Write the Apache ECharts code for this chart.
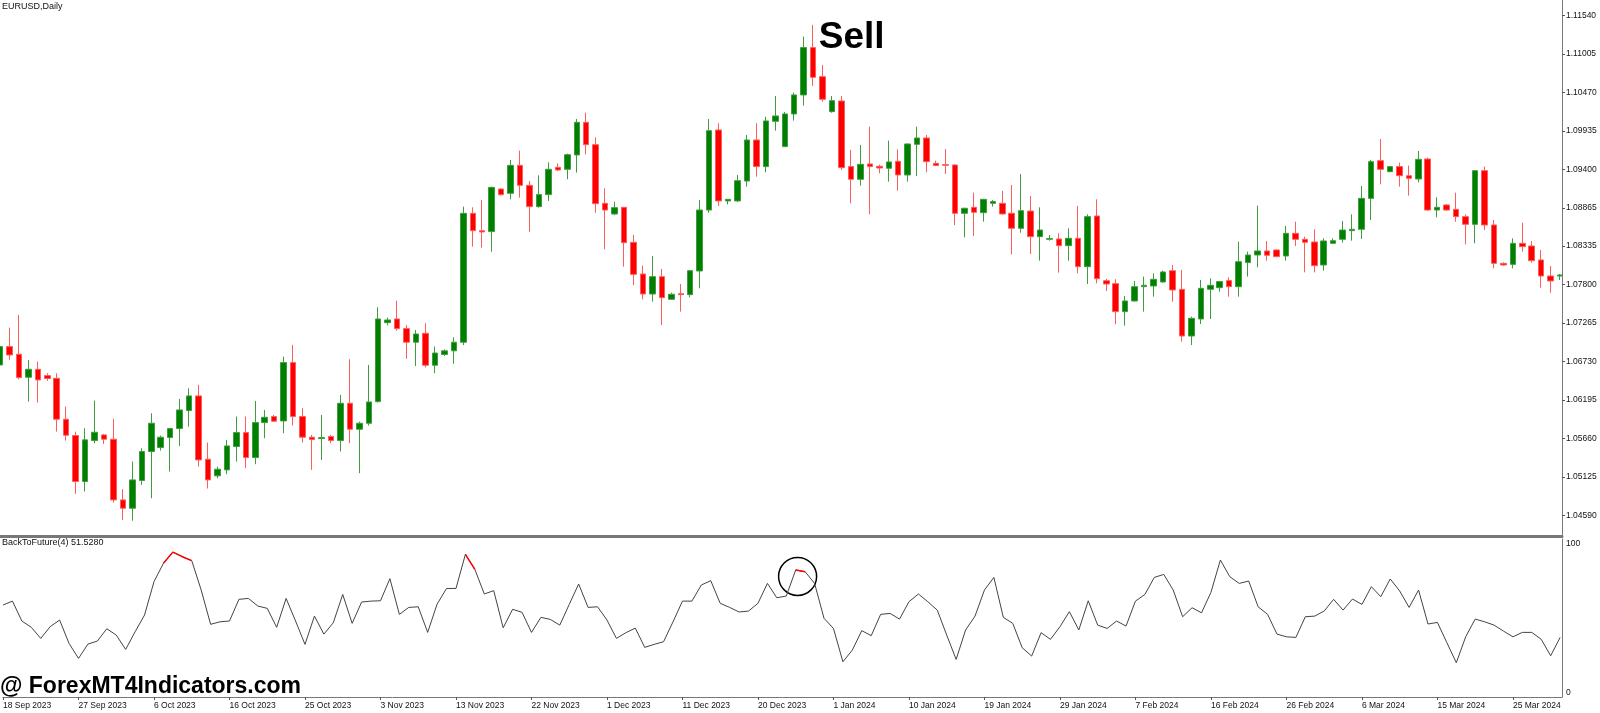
<!DOCTYPE html>
<html><head><meta charset="utf-8">
<script src="https://cdn.jsdelivr.net/npm/echarts@6/dist/echarts.min.js"></script>
<style>html,body{margin:0;padding:0;background:#fff;overflow:hidden}#c{width:1600px;height:713px}</style>
</head><body><div id="c"></div>
<script>
// ---- tick labels ----
const dateLabels = ['18 Sep 2023','27 Sep 2023','6 Oct 2023','16 Oct 2023','25 Oct 2023','3 Nov 2023','13 Nov 2023','22 Nov 2023','1 Dec 2023','11 Dec 2023','20 Dec 2023','1 Jan 2024','10 Jan 2024','19 Jan 2024','29 Jan 2024','7 Feb 2024','16 Feb 2024','26 Feb 2024','6 Mar 2024','15 Mar 2024','25 Mar 2024'];
const dateTickIdx = [0,8,16,24,32,40,48,56,64,72,80,88,96,104,112,120,128,136,144,152,160];
const priceTicks = [1.11540,1.11005,1.10470,1.09935,1.09400,1.08865,1.08335,1.07800,1.07265,1.06730,1.06195,1.05660,1.05125,1.04590];
const indTicks = [0,100];

// ---- EURUSD daily OHLC (bar index 0..165) ----
const opens = [1.06684,1.06939,1.06833,1.06513,1.06624,1.06536,1.06499,1.05930,1.05703,1.05064,
1.05633,1.05712,1.05652,1.04809,1.04693,1.05078,1.05481,1.05536,1.05675,1.05800,
1.06050,1.06254,1.05374,1.05143,1.05226,1.05550,1.05744,1.05397,1.05883,1.05967,
1.05906,1.06717,1.05967,1.05680,1.05661,1.05689,1.05633,1.06152,1.05791,1.05874,
1.06175,1.07272,1.07323,1.07189,1.07000,1.07124,1.06680,1.06830,1.06880,1.07000,
1.08791,1.08550,1.08537,1.09129,1.09069,1.09458,1.09180,1.08884,1.09051,1.09430,
1.09403,1.09602,1.10056,1.09745,1.08930,1.08782,1.08875,1.08388,1.07948,1.07670,
1.07911,1.07596,1.07675,1.07661,1.07990,1.08837,1.09949,1.08963,1.08963,1.09240,
1.09810,1.09440,1.10070,1.09718,1.10172,1.10436,1.11094,1.10690,1.10204,1.10352,
1.09440,1.09264,1.09477,1.09445,1.09417,1.09514,1.09324,1.09750,1.09838,1.09486,
1.09468,1.09463,1.08791,1.08875,1.08800,1.08930,1.08930,1.08792,1.08583,1.08823,
1.08467,1.08430,1.08435,1.08342,1.08444,1.08050,1.08754,1.07855,1.07814,1.07425,
1.07573,1.07772,1.07781,1.07837,1.07994,1.07735,1.07086,1.07323,1.07735,1.07758,
1.07856,1.07772,1.08106,1.08212,1.08268,1.08282,1.08198,1.08513,1.08430,1.08393,
1.08073,1.08374,1.08430,1.08550,1.08569,1.08999,1.09523,1.09370,1.09440,1.09314,
1.09268,1.09546,1.08837,1.08907,1.08847,1.08745,1.08638,1.09384,1.08629,1.08096,
1.08082,1.08374,1.08337,1.08143,1.07920,1.07920];
const closes = [1.06939,1.06823,1.06508,1.06624,1.06476,1.06495,1.05930,1.05707,1.05064,1.05643,
1.05749,1.05652,1.04809,1.04693,1.05087,1.05481,1.05874,1.05680,1.05800,1.06059,
1.06254,1.05365,1.05087,1.05235,1.05559,1.05744,1.05397,1.05883,1.05957,1.05902,
1.06717,1.05967,1.05680,1.05647,1.05675,1.05633,1.06152,1.05791,1.05874,1.06170,
1.07323,1.07309,1.07189,1.07000,1.07114,1.06680,1.06850,1.06880,1.07000,1.08791,
1.08550,1.08532,1.09152,1.09050,1.09458,1.09180,1.08884,1.09051,1.09403,1.09393,
1.09606,1.10056,1.09745,1.08925,1.08837,1.08870,1.08383,1.07943,1.07670,1.07911,
1.07619,1.07666,1.07661,1.07994,1.08837,1.09940,1.08963,1.08986,1.09245,1.09810,
1.09440,1.10075,1.10144,1.10172,1.10436,1.11094,1.10681,1.10376,1.10357,1.09426,
1.09264,1.09472,1.09440,1.09421,1.09505,1.09324,1.09755,1.09838,1.09509,1.09454,
1.09458,1.08791,1.08861,1.08805,1.08986,1.08954,1.08782,1.08583,1.08828,1.08467,
1.08559,1.08440,1.08342,1.08444,1.08050,1.08745,1.07883,1.07809,1.07425,1.07573,
1.07772,1.07791,1.07874,1.07976,1.07726,1.07086,1.07332,1.07749,1.07791,1.07842,
1.07772,1.08119,1.08212,1.08268,1.08208,1.08189,1.08513,1.08430,1.08388,1.08064,
1.08407,1.08411,1.08559,1.08569,1.08999,1.09509,1.09402,1.09440,1.09314,1.09277,
1.09541,1.08837,1.08874,1.08837,1.08745,1.08638,1.09384,1.08629,1.08096,1.08073,
1.08374,1.08328,1.08133,1.07920,1.07851,1.07934];
const lows = [1.06640,1.06754,1.06485,1.06175,1.06161,1.06462,1.05758,1.05633,1.04893,1.04925,
1.05596,1.05587,1.04772,1.04530,1.04520,1.05018,1.04832,1.05494,1.05203,1.05559,
1.05828,1.05272,1.04967,1.05110,1.05166,1.05342,1.05249,1.05305,1.05666,1.05893,
1.05735,1.05842,1.05606,1.05226,1.05365,1.05596,1.05481,1.05596,1.05180,1.05842,
1.06161,1.07235,1.07161,1.06770,1.06670,1.06650,1.06570,1.06810,1.06700,1.06960,
1.08328,1.08314,1.08258,1.09040,1.08986,1.09009,1.08536,1.08870,1.08963,1.09379,
1.09264,1.09356,1.09611,1.08800,1.08291,1.08768,1.08050,1.07795,1.07596,1.07564,
1.07239,1.07587,1.07425,1.07624,1.07749,1.08800,1.08893,1.08916,1.08950,1.09162,
1.09301,1.09361,1.09940,1.09718,1.10079,1.10288,1.10561,1.10343,1.10190,1.09394,
1.08930,1.09176,1.08778,1.09347,1.09231,1.09106,1.09231,1.09310,1.09361,1.09449,
1.09338,1.08629,1.08458,1.08477,1.08676,1.08884,1.08775,1.08221,1.08522,1.08226,
1.08133,1.08411,1.07967,1.08133,1.07957,1.07809,1.07818,1.07712,1.07249,1.07230,
1.07564,1.07425,1.07633,1.07828,1.07564,1.07008,1.06961,1.07253,1.07323,1.07703,
1.07633,1.07633,1.07911,1.08041,1.08133,1.08180,1.08133,1.08337,1.07971,1.07971,
1.07994,1.08365,1.08383,1.08411,1.08434,1.08698,1.09194,1.09361,1.09162,1.09037,
1.09222,1.08823,1.08735,1.08828,1.08675,1.08360,1.08374,1.08559,1.08027,1.08064,
1.08027,1.08258,1.08106,1.07758,1.07689,1.07865];
const highs = [1.06990,1.07203,1.07379,1.06754,1.06731,1.06569,1.06569,1.06106,1.05758,1.05805,
1.06189,1.05726,1.05934,1.04957,1.05342,1.05527,1.06013,1.05703,1.05809,1.06212,
1.06360,1.06407,1.05606,1.05272,1.05643,1.05967,1.05967,1.06184,1.06059,1.05990,
1.06800,1.06962,1.06082,1.05712,1.05990,1.05712,1.06268,1.06763,1.05897,1.06684,
1.07485,1.07342,1.07578,1.07240,1.07170,1.07263,1.06940,1.06900,1.07068,1.08884,
1.08875,1.08976,1.09160,1.09140,1.09532,1.09662,1.09240,1.09319,1.09500,1.09486,
1.09620,1.10102,1.10190,1.09847,1.09139,1.08953,1.08880,1.08490,1.08064,1.08198,
1.08018,1.07689,1.07809,1.08000,1.08976,1.10102,1.10042,1.08990,1.09324,1.09880,
1.10042,1.10135,1.10422,1.10200,1.10468,1.11246,1.11409,1.10853,1.10422,1.10422,
1.09672,1.09741,1.09996,1.09468,1.09801,1.09681,1.09760,1.09996,1.09880,1.09523,
1.09685,1.09472,1.08870,1.09079,1.08990,1.08977,1.09102,1.09185,1.09338,1.09032,
1.08874,1.08490,1.08513,1.08583,1.08893,1.08777,1.08986,1.07879,1.07874,1.07643,
1.07851,1.07911,1.07957,1.07995,1.08073,1.08004,1.07355,1.07865,1.07888,1.07850,
1.07902,1.08397,1.08258,1.08898,1.08407,1.08290,1.08615,1.08675,1.08467,1.08569,
1.08444,1.08444,1.08685,1.08777,1.09171,1.09532,1.09824,1.09449,1.09495,1.09454,
1.09657,1.09565,1.09013,1.08921,1.09078,1.08777,1.09390,1.09440,1.08698,1.08110,
1.08444,1.08661,1.08407,1.08281,1.08059,1.07948];

// ---- BackToFuture(4) indicator values ----
const indicator = [58.2,60.7,48.1,44.1,37.1,44.5,48.7,33.9,24.4,33.5,
35.4,43.2,39.2,30.1,41.3,51.9,73.0,84.6,91.7,88.8,
86.3,67.7,46.0,47.6,48.1,61.8,62.4,57.6,56.1,44.1,
62.4,48.1,33.3,51.2,39.8,47.0,64.9,46.6,60.1,60.7,
60.9,74.9,52.3,56.7,57.1,40.9,58.8,68.7,68.7,90.3,
80.8,65.2,67.3,43.8,55.5,53.6,40.9,50.4,49.1,45.5,
58.6,71.5,56.7,57.1,48.7,37.1,40.7,43.6,31.4,33.3,
35.0,47.6,60.7,60.7,70.9,73.6,59.3,56.7,53.8,54.4,
59.3,71.9,62.8,63.9,80.4,79.3,71.9,49.8,43.4,22.3,
29.7,42.0,38.8,52.3,52.9,49.3,60.3,65.2,60.3,55.0,
39.2,23.8,42.4,51.2,67.7,75.7,50.4,46.6,31.2,25.9,
40.7,36.5,44.5,54.0,42.4,60.9,45.5,43.4,48.1,44.9,
60.7,64.9,75.7,77.6,67.7,50.8,56.5,53.3,66.2,86.7,
76.1,71.9,73.4,57.1,52.3,39.8,38.1,37.7,50.8,51.2,
54.4,61.8,55.0,62.0,58.6,69.8,63.5,74.7,67.1,56.7,
67.7,46.2,47.2,34.4,21.7,38.2,49.3,47.6,45.5,41.7,
38.1,40.9,40.9,36.5,26.1,37.7];
const signalIdx = [17,18,19,20,49,50,84,85];
const sellMark = [86.6, 1.11227];
const circleMark = [84.2, 76.3];

// ---- build ----
const FONT = '"Liberation Sans", Arial, sans-serif';
const candleData = opens.map((o, i) => [i, o, closes[i], lows[i], highs[i]]);
const lineData = indicator.map((v, i) => [i, v]);
const redData = indicator.map((v, i) => signalIdx.includes(i) ? [i, v] : [i, '-']);
const X_MIN = 0, X_MAX = 165.2;
const P_MAX = 1.117554, P_MIN = 1.043072;

const chart = echarts.init(document.getElementById('c'), null, {renderer: 'canvas'});
chart.setOption({
  animation: false,
  backgroundColor: '#ffffff',
  grid: [
    {left: 0, right: 38, top: 0, height: 536},
    {left: 0, right: 38, top: 539, height: 158}
  ],
  xAxis: [
    {type: 'value', gridIndex: 0, min: X_MIN, max: X_MAX,
     axisLine: {show: true, onZero: false, lineStyle: {color: '#787878', width: 3}},
     axisTick: {show: false}, axisLabel: {show: false}, splitLine: {show: false}},
    {type: 'value', gridIndex: 1, min: X_MIN, max: X_MAX,
     axisLine: {show: true, onZero: false, lineStyle: {color: '#787878', width: 1}},
     axisTick: {show: true, customValues: dateTickIdx, length: 3, lineStyle: {color: '#555'}},
     axisLabel: {customValues: dateTickIdx, formatter: v => dateLabels[dateTickIdx.indexOf(v)],
       align: 'left', margin: 4, fontSize: 8.5, color: '#111', fontFamily: FONT},
     splitLine: {show: false}}
  ],
  yAxis: [
    {type: 'value', gridIndex: 0, position: 'right', min: P_MIN, max: P_MAX,
     axisLine: {show: true, onZero: false, lineStyle: {color: '#787878', width: 1}},
     axisTick: {show: true, customValues: priceTicks, length: 3, lineStyle: {color: '#555'}},
     axisLabel: {customValues: priceTicks, formatter: v => v.toFixed(5), margin: 4,
       fontSize: 8.5, color: '#111', fontFamily: FONT},
     splitLine: {show: false}},
    {type: 'value', gridIndex: 1, position: 'right', min: 0, max: 100,
     axisLine: {show: true, onZero: false, lineStyle: {color: '#787878', width: 1}},
     axisTick: {show: false},
     axisLabel: {customValues: indTicks, margin: 4, fontSize: 8.5, color: '#111', fontFamily: FONT,
       verticalAlignMinLabel: 'bottom', verticalAlignMaxLabel: 'top'},
     splitLine: {show: false}}
  ],
  series: [
    {type: 'candlestick', xAxisIndex: 0, yAxisIndex: 0, data: candleData, barWidth: 6,
     itemStyle: {color: '#008000', color0: '#ff0000', borderColor: '#3f9c3f', borderColor0: '#ff5c5c', borderWidth: 1}},
    {type: 'scatter', xAxisIndex: 0, yAxisIndex: 0, data: [sellMark], symbolSize: 0, silent: true,
     itemStyle: {opacity: 1},
     label: {show: true, formatter: 'Sell', position: 'right', distance: 0, opacity: 1,
       fontSize: 37, fontWeight: 'bold', color: '#000', textBorderWidth: 0, fontFamily: FONT}},
    {type: 'line', xAxisIndex: 1, yAxisIndex: 1, data: lineData, symbol: 'none',
     lineStyle: {color: '#444444', width: 1}},
    {type: 'line', xAxisIndex: 1, yAxisIndex: 1, data: redData, symbol: 'none', connectNulls: false,
     lineStyle: {color: '#ff0000', width: 1.5}},
    {type: 'scatter', xAxisIndex: 1, yAxisIndex: 1, data: [circleMark], symbol: 'circle', symbolSize: 38,
     itemStyle: {color: 'rgba(0,0,0,0)', borderColor: '#000', borderWidth: 1.5, opacity: 1}, silent: true}
  ],
  graphic: [
    {type: 'text', left: 2, top: 2, style: {text: 'EURUSD,Daily', font: '9px ' + FONT, fill: '#111'}},
    {type: 'text', left: 2, top: 538, style: {text: 'BackToFuture(4) 51.5280', font: '9px ' + FONT, fill: '#111'}},
    {type: 'text', left: 0, top: 675, style: {text: '@ ForexMT4Indicators.com', font: 'bold 23px ' + FONT, fill: '#000'}}
  ]
});
</script>
</body></html>
